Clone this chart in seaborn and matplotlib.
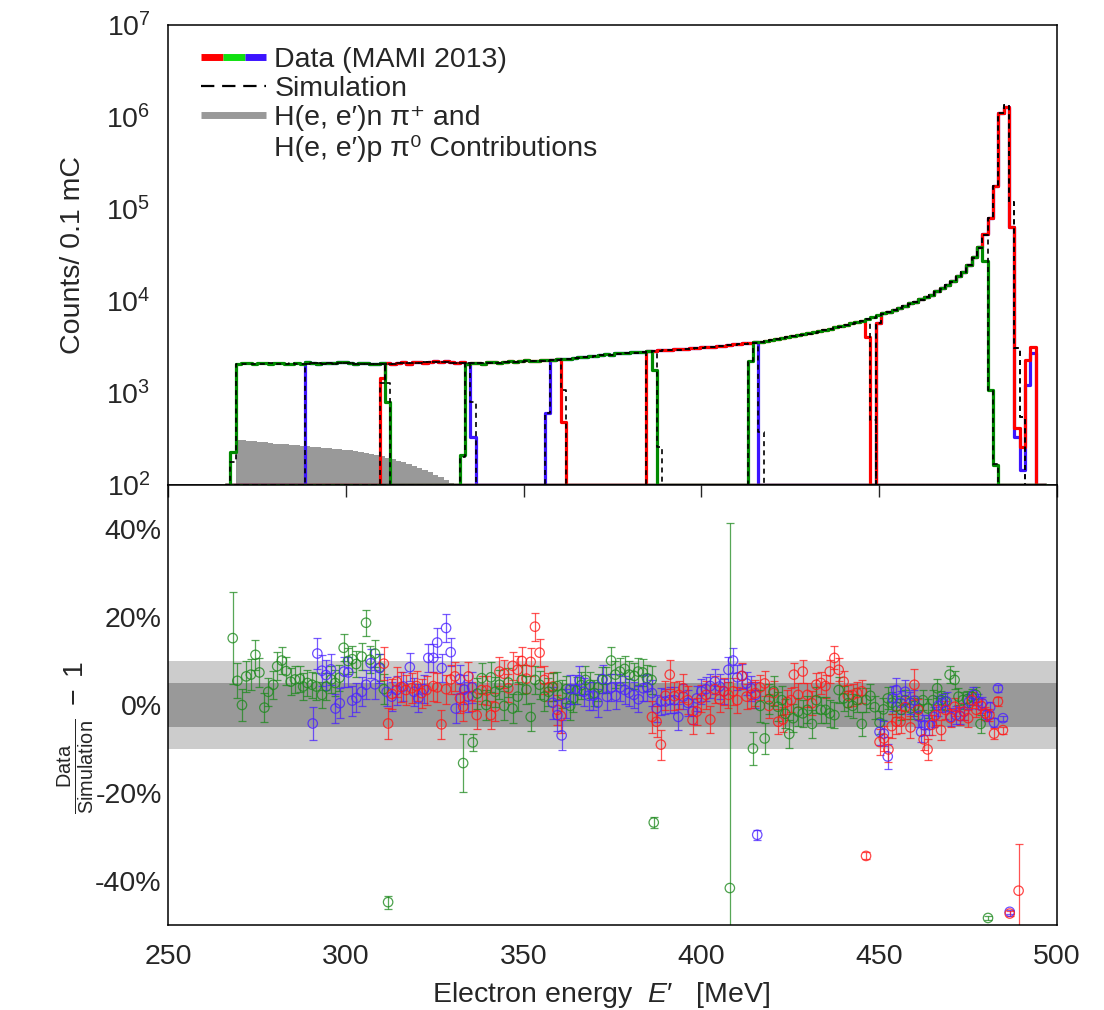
import numpy as np
import pandas as pd
import matplotlib
matplotlib.use("Agg")
import matplotlib.pyplot as plt
import seaborn as sns
from matplotlib.lines import Line2D
from matplotlib.legend_handler import HandlerTuple
from matplotlib.ticker import LogLocator, NullFormatter

# ------------------------------------------------------------------ data
bin_lo = 266.0
bin_width = 1.5
n_bins = 154

sim_counts = [
    2060, 2070, 2080, 2090, 2080, 2070, 2080, 2090, 2100, 2090,
    2080, 2090, 2100, 2090, 2080, 2090, 2110, 2100, 2090, 2100,
    2090, 2100, 2110, 2100, 2090, 2080, 2090, 2080, 2070, 2080,
    2080, 2090, 2100, 2110, 2120, 2130, 2140, 2150, 2160, 2160,
    2150, 2150, 2140, 2130, 2120, 2110, 2100, 2100, 2110, 2120,
    2130, 2140, 2150, 2160, 2170, 2180, 2200, 2210, 2230, 2250,
    2240, 2270, 2300, 2330, 2360, 2390, 2420, 2450, 2480, 2520,
    2570, 2600, 2620, 2650, 2670, 2700, 2720, 2750, 2780, 2810,
    2850, 2870, 2900, 2920, 2950, 2970, 3000, 3030, 3060, 3090,
    3130, 3170, 3210, 3260, 3300, 3340, 3390, 3430, 3480, 3530,
    3590, 3670, 3760, 3850, 3940, 4030, 4120, 4220, 4320, 4420,
    4520, 4620, 4790, 4950, 5130, 5250, 5430, 5620, 5820, 6030,
    6310, 6610, 6920, 7240, 7590, 7940, 8320, 8810, 9330, 9770,
    10350, 10960, 11610, 12590, 13650, 14790, 16220, 18200, 20420, 24550,
    29510, 38000, 52500, 79400, 178000, 1096000, 1349000, 120000, 3100, 550,
    0, 0, 0, 0,
]

data_counts = [
    2090, 2110, 2060, 2120, 2100, 2050, 2110, 2130, 2080, 2100,
    2120, 2060, 2080, 2130, 2090, 2150, 2100, 2070, 2120, 2140,
    2110, 2150, 2190, 2120, 2070, 2100, 2130, 2060, 2090, 2110,
    2100, 2070, 2130, 2150, 2090, 2160, 2180, 2120, 2190, 2200,
    2180, 2210, 2150, 2120, 2160, 2090, 2130, 2120, 2080, 2150,
    2160, 2120, 2180, 2210, 2150, 2200, 2260, 2230, 2250, 2300,
    2280, 2260, 2330, 2370, 2340, 2410, 2460, 2440, 2510, 2530,
    2590, 2630, 2600, 2690, 2720, 2700, 2760, 2800, 2790, 2850,
    2870, 2900, 2930, 2910, 2990, 3000, 3020, 3060, 3080, 3130,
    3150, 3200, 3270, 3250, 3330, 3380, 3420, 3460, 3510, 3560,
    3620, 3700, 3790, 3840, 3990, 4080, 4150, 4250, 4390, 4480,
    4560, 4700, 4840, 4990, 5200, 5330, 5480, 5700, 5850, 6120,
    6350, 6700, 6980, 7350, 7620, 8040, 8400, 8850, 9450, 9850,
    10500, 11100, 11700, 12800, 13800, 15000, 16400, 18500, 20800, 24800,
    30000, 38500, 53500, 80500, 180000, 1100000, 1300000, 63000, 420, 260,
    2300, 3160, 0, 0,
]

# pion-production background (grey), first bin index and contents
bkg_first_bin = 2
bkg_counts = [309, 305, 302, 298, 294, 290, 286, 282, 279, 276,
              273, 270, 266, 263, 260, 258, 255, 252, 249, 246,
              243, 239, 234, 229, 224, 218, 212, 205, 198, 191,
              183, 176, 168, 160, 152, 144, 137, 130, 122, 113, 105]

# spectrometer settings: colour, full-acceptance bin range, partial edge bins
set_color = ["green", "blue", "red", "green", "blue", "red", "green", "blue", "red"]
data_lo = [2, 15, 30, 45, 61, 79, 99, 123, 123]
data_hi = [29, 45, 62, 79, 99, 119, 141, 147, 151]
data_lead = [[230], [], [1450], [210], [600], [], [2200], [5750], [5750]]
data_trail = [[800], [330], [490], [1800], [], [4100], [27000, 1070, 165],
              [330, 145, 1230, 2700], []]
sim_lo = [2, 15, 30, 45, 61, 79, 99, 123, 123]
sim_hi = [29, 45, 62, 80, 99, 120, 142, 149, 149]
sim_lead = [[180], [], [1300], [200], [600], [], [2200], [5750], [5750]]
sim_trail = [[1300], [800], [1080], [260], [380], [510], [1070, 170], [], []]

# ratio Data/Simulation - 1 [%] for each setting: energy, value, error
ratio_E1 = [268.2, 269.5, 270.8, 272.0, 273.3, 274.6, 275.7, 277.1, 278.2, 279.6,
            280.7, 282.0, 283.2, 284.5, 285.7, 287.1, 288.0, 289.2, 290.5, 291.7,
            293.3, 294.5, 295.9, 297.0, 298.2, 299.4, 300.6, 301.8, 302.9, 304.5,
            305.7, 306.8, 308.2, 309.6, 310.7, 311.9]
ratio_Y1 = [15.2, 5.5, 0.0, 6.5, 6.9, 11.4, 7.4, -0.6, 3.0, 4.6,
            8.8, 10.1, 7.7, 5.3, 5.8, 5.9, 4.2, 5.0, 4.6, 4.2,
            2.3, 4.2, 5.8, 5.0, 6.2, 13.0, 10.0, 10.4, 9.3, 11.0,
            18.7, 10.3, 11.7, 8.5, 3.6, -44.8]
ratio_R1 = [10.5, 4.0, 3.6, 3.5, 3.5, 3.4, 3.3, 3.3, 3.2, 3.2,
            3.2, 3.1, 3.1, 3.1, 3.1, 3.0, 3.0, 3.0, 3.0, 3.0,
            3.0, 3.0, 3.0, 3.0, 3.0, 3.1, 3.0, 3.0, 3.0, 3.0,
            3.0, 3.0, 3.0, 3.0, 3.4, 1.5]

ratio_E2 = [290.7, 292.0, 293.3, 294.4, 295.8, 297.1, 298.3, 299.5, 300.7, 301.8,
            303.0, 304.5, 305.7, 307.0, 308.2, 309.4, 311.5, 312.9, 314.3, 316.2,
            318.0, 319.2, 320.4, 322.0, 323.2, 324.6, 325.7, 327.0, 328.2, 329.5,
            330.9, 332.1, 333.3, 334.4, 335.5]
ratio_Y2 = [-4.2, 11.7, 7.8, 6.8, 8.1, -0.8, 0.4, 7.6, 7.4, 1.0,
            1.6, 3.0, 4.6, 9.5, 4.7, 8.4, 3.0, 1.9, 3.4, 4.2,
            8.6, 3.0, 1.5, 3.6, 10.7, 10.7, 14.2, 8.4, 17.5, 12.0,
            -0.8, 5.9, 3.5, 1.9, 4.0]
ratio_R2 = [3.8, 3.6, 3.5, 3.5, 3.5, 3.4, 3.4, 3.4, 3.4, 3.4,
            3.3, 3.3, 3.3, 3.3, 3.3, 3.3, 3.3, 3.3, 3.3, 3.3,
            3.2, 3.2, 3.2, 3.2, 3.2, 3.2, 3.2, 3.2, 3.2, 3.2,
            3.2, 3.2, 3.3, 3.4, 3.6]

ratio_E3 = [310.7, 311.9, 313.0, 314.3, 315.5, 316.9, 318.5, 319.9, 321.3, 322.7,
            324.6, 325.7, 326.9, 328.2, 329.5, 330.7, 332.1, 333.0, 334.5, 335.6,
            336.8, 338.2, 339.6, 340.8, 342.0, 343.2, 344.5, 345.7, 346.9, 348.3,
            349.5, 350.8, 352.0, 353.2, 354.5, 355.8, 357.0, 358.2, 359.5, 360.5]
ratio_Y3 = [9.4, -4.2, 2.5, 5.3, 4.1, 3.4, 3.8, 4.3, 2.7, 3.4,
            4.3, 4.0, -4.4, 3.6, 5.8, 6.5, 1.5, -0.4, 6.5, 2.0,
            -2.3, 3.4, 3.3, -2.3, -0.4, 7.6, 7.1, 3.8, 8.9, 8.0,
            10.0, 6.0, 9.8, 17.8, 11.9, 5.7, 4.0, 4.2, -1.1, -2.5]
ratio_R3 = [3.8, 3.6, 3.5, 3.4, 3.4, 3.4, 3.4, 3.4, 3.3, 3.3,
            3.3, 3.3, 3.3, 3.3, 3.3, 3.3, 3.3, 3.3, 3.3, 3.3,
            3.2, 3.2, 3.2, 3.2, 3.2, 3.2, 3.2, 3.2, 3.2, 3.2,
            3.2, 3.2, 3.2, 3.2, 3.2, 3.2, 3.2, 3.3, 3.4, 3.8]

ratio_E4 = [333.0, 335.7, 337.0, 338.2, 339.5, 340.8, 342.0, 343.2, 344.5, 345.7,
            346.9, 348.3, 349.5, 350.8, 352.0, 353.2, 354.5, 355.8, 357.0, 358.2,
            359.5, 360.8, 362.0, 363.1, 364.0, 365.0, 366.2, 367.4, 368.6, 369.9,
            371.0, 372.1, 373.3, 374.6, 375.8, 377.1, 378.4, 379.7, 381.1, 382.2,
            383.5, 384.7, 386.0, 386.6]
ratio_Y4 = [-13.2, -8.5, 2.6, 6.1, 0.0, 6.3, 3.0, 4.6, -0.2, 5.1,
            -0.8, 1.9, 5.7, 3.5, -2.7, 5.7, 4.6, 1.9, 3.0, 4.0,
            4.3, 2.5, 3.6, -0.2, 1.5, 3.3, 4.5, 5.7, 4.6, 2.7,
            4.0, 5.7, 5.7, 10.1, 6.9, 7.6, 8.2, 6.9, 6.6, 7.6,
            7.4, 6.1, 5.7, -26.7]
ratio_R4 = [6.5, 2.0, 3.5, 3.4, 3.4, 3.4, 3.4, 3.3, 3.3, 3.3,
            3.3, 3.3, 3.3, 3.2, 3.2, 3.2, 3.2, 3.2, 3.2, 3.2,
            3.1, 3.1, 3.1, 3.1, 3.1, 3.1, 3.1, 3.1, 3.0, 3.0,
            3.0, 3.0, 3.0, 3.0, 3.0, 3.0, 3.0, 3.0, 3.0, 3.0,
            3.0, 3.0, 3.2, 1.2]

ratio_E5 = [358.2, 359.5, 360.7, 362.0, 363.1, 364.5, 365.7, 366.9, 368.3, 369.6,
            370.8, 372.2, 373.4, 374.7, 375.9, 377.2, 378.5, 379.7, 381.0, 382.3,
            383.6, 384.8, 386.1, 387.4, 388.6, 389.9, 391.1, 392.4, 393.5, 394.9,
            396.2, 397.5, 398.7, 400.0, 401.3, 402.5, 403.8, 405.1, 406.3, 407.6,
            408.9, 410.1, 411.4, 412.7, 414.0, 415.2, 415.7]
ratio_Y5 = [0.5, -2.3, -6.9, 0.4, 3.6, 3.6, 5.6, 3.0, 2.1, 2.1,
            0.5, 5.9, 1.9, 4.0, 2.1, 4.0, 3.4, 2.8, 2.3, 1.3,
            3.8, 4.0, 2.7, -0.8, 0.8, 0.8, 1.1, 1.1, -2.7, 1.9,
            0.5, -1.5, 1.5, 3.1, 3.6, 4.3, 5.3, 4.2, 3.1, 8.0,
            10.1, 6.3, 6.6, 4.9, 3.8, 2.3, -29.5]
ratio_R5 = [3.6, 3.5, 3.4, 3.3, 3.3, 3.3, 3.3, 3.2, 3.2, 3.2,
            3.2, 3.2, 3.1, 3.1, 3.1, 3.1, 3.1, 3.0, 3.0, 3.0,
            3.0, 3.0, 3.0, 3.0, 3.0, 2.9, 2.9, 2.9, 2.9, 2.9,
            2.9, 2.9, 2.8, 2.8, 2.8, 2.8, 2.8, 2.8, 2.8, 2.8,
            2.8, 2.8, 2.7, 2.7, 2.8, 3.0, 1.2]

ratio_E6 = [386.1, 387.4, 388.6, 389.9, 391.1, 392.4, 393.7, 394.9, 396.2, 397.5,
            398.7, 400.0, 401.3, 402.5, 403.8, 405.1, 406.3, 407.6, 408.9, 410.1,
            411.4, 412.7, 414.0, 415.2, 416.5, 417.8, 419.0, 420.3, 421.6, 422.9,
            424.1, 425.2, 426.0, 427.2, 428.5, 429.8, 431.1, 432.3, 433.6, 434.9,
            436.1, 437.4, 438.6, 440.0, 441.2, 442.5, 443.8, 445.1, 446.3]
ratio_Y6 = [-2.7, -3.8, -9.0, 2.1, 6.9, 2.0, 2.3, 3.8, 1.1, -3.4,
            -1.5, 1.5, 2.3, -3.3, 3.6, 1.3, 3.1, 2.3, 3.1, 1.1,
            6.6, 1.9, 2.3, 2.7, 4.0, 4.9, -0.2, 2.7, -3.8, -3.3,
            0.7, 1.1, 6.9, 2.3, 7.6, 2.3, 0.4, 4.6, 5.0, 4.3,
            7.6, 10.7, 8.0, 5.3, 2.1, 2.3, 2.7, 3.1, -34.3]
ratio_R6 = [3.6, 3.5, 3.4, 3.3, 3.3, 3.2, 3.2, 3.2, 3.2, 3.2,
            3.1, 3.1, 3.1, 3.1, 3.1, 3.0, 3.0, 3.0, 3.0, 3.0,
            2.9, 2.9, 2.9, 2.9, 2.9, 2.9, 2.8, 2.8, 2.8, 2.8,
            2.8, 2.8, 2.7, 2.7, 2.7, 2.7, 2.7, 2.6, 2.6, 2.6,
            2.6, 2.6, 2.6, 2.5, 2.5, 2.5, 2.5, 2.6, 0.8]

ratio_E7 = [408.0, 414.5, 416.5, 417.8, 419.0, 420.3, 421.5, 422.6, 423.6, 424.7,
            425.8, 427.2, 428.5, 429.8, 431.1, 432.3, 433.6, 434.9, 436.1, 437.4,
            438.6, 440.0, 441.2, 442.5, 443.8, 445.1, 446.3, 447.5, 448.7, 450.1,
            451.2, 452.4, 453.6, 454.8, 456.2, 457.3, 458.8, 459.9, 461.0, 462.3,
            463.7, 465.1, 466.3, 467.4, 468.6, 469.8, 471.2, 472.3, 473.5, 474.7,
            476.0, 477.2, 478.5, 480.6]
ratio_Y7 = [-41.6, -9.9, -0.2, -7.6, 1.3, 3.1, -0.4, 1.1, -2.0, -6.6,
            -3.0, -1.5, -1.9, -1.1, -4.3, 1.1, -1.1, -1.1, -1.9, -2.3,
            3.4, 1.5, 0.4, -0.2, 1.1, -4.3, 1.1, 2.1, -0.5, -4.0,
            -1.0, 1.5, 0.5, -0.4, -1.1, 1.1, -0.8, -0.2, -0.8, 1.1,
            -0.8, 1.1, 3.8, 1.1, 0.8, 6.9, 5.7, 1.9, 1.1, 1.3,
            1.9, 2.3, -4.3, -48.4]
ratio_R7 = [83.0, 3.8, 3.6, 3.5, 3.4, 3.4, 3.3, 3.3, 3.3, 3.2,
            3.2, 3.2, 3.1, 3.1, 3.1, 3.0, 3.0, 3.0, 3.0, 2.9,
            2.9, 2.9, 2.8, 2.8, 2.8, 2.7, 2.7, 2.7, 2.6, 2.6,
            2.5, 2.5, 2.5, 2.4, 2.4, 2.4, 2.3, 2.3, 2.3, 2.2,
            2.2, 2.2, 2.1, 2.1, 2.0, 2.0, 2.0, 1.9, 1.9, 1.8,
            1.8, 1.7, 2.0, 0.5]

ratio_E8 = [450.1, 451.3, 452.4, 453.8, 454.8, 456.0, 457.3, 458.8, 459.9, 461.0,
            461.8, 462.7, 464.1, 465.3, 466.6, 467.8, 469.0, 470.2, 471.6, 472.8,
            473.9, 475.3, 476.5, 477.8, 479.0, 480.3, 481.2, 482.3, 483.4, 484.8,
            486.7]
ratio_Y8 = [-6.1, -6.5, -11.7, 1.5, 3.4, 0.5, 3.0, 0.4, 1.0, -2.5,
            -6.1, -4.6, -4.6, -2.7, -0.2, 0.4, 0.8, -2.7, -2.3, -2.5,
            -1.5, 0.8, 2.3, 0.8, 0.4, -2.3, -0.5, -4.0, 3.8, -3.0,
            -47.0]
ratio_R8 = [3.0, 2.9, 2.8, 2.8, 2.7, 2.6, 2.6, 2.5, 2.5, 2.4,
            2.4, 2.3, 2.3, 2.2, 2.2, 2.1, 2.1, 2.0, 2.0, 1.9,
            1.9, 1.8, 1.7, 1.6, 1.5, 1.3, 1.2, 1.0, 0.8, 0.6,
            0.5]

ratio_E9 = [450.1, 451.3, 452.6, 453.5, 454.8, 456.0, 457.3, 458.8, 459.9, 461.0,
            462.5, 463.6, 464.8, 465.9, 467.4, 468.6, 470.1, 471.2, 472.6, 473.8,
            475.0, 476.1, 477.3, 478.7, 479.8, 481.0, 482.3, 483.4, 484.8, 486.7,
            489.2]
ratio_Y9 = [-8.4, -7.6, -10.1, -4.8, -3.8, -3.8, -0.5, -5.1, 4.6, -1.1,
            -7.8, -10.1, -4.5, -2.3, -5.7, -1.1, -3.0, -0.4, -2.5, -1.5,
            -3.0, 1.1, -1.1, -0.2, -1.9, -2.3, -6.5, 0.8, -5.7, -47.4,
            -42.2]
ratio_R9 = [3.0, 2.9, 2.8, 2.8, 2.7, 2.6, 2.6, 2.5, 3.5, 2.4,
            2.4, 2.3, 2.3, 2.2, 2.2, 2.1, 2.1, 2.0, 2.0, 1.9,
            1.9, 1.8, 1.7, 1.6, 1.5, 1.3, 1.2, 1.0, 0.8, 0.6,
            10.7]

ratio_E = [ratio_E1, ratio_E2, ratio_E3, ratio_E4, ratio_E5, ratio_E6, ratio_E7, ratio_E8, ratio_E9]
ratio_Y = [ratio_Y1, ratio_Y2, ratio_Y3, ratio_Y4, ratio_Y5, ratio_Y6, ratio_Y7, ratio_Y8, ratio_Y9]
ratio_R = [ratio_R1, ratio_R2, ratio_R3, ratio_R4, ratio_R5, ratio_R6, ratio_R7, ratio_R8, ratio_R9]

legend_labels = ["Data (MAMI 2013)", "Simulation",
                 "H(e, e\u2032)n \u03c0\u207a and",
                 "H(e, e\u2032)p \u03c0\u2070 Contributions"]

# ------------------------------------------------------------------ style
FS = 20.5
sns.set_style("white")
plt.rcParams["font.family"] = ["Liberation Sans", "DejaVu Sans"]
plt.rcParams["mathtext.fontset"] = "custom"
plt.rcParams["mathtext.rm"] = "Liberation Sans"
plt.rcParams["mathtext.it"] = "Liberation Sans:italic"
plt.rcParams["mathtext.bf"] = "Liberation Sans:bold"
plt.rcParams["font.size"] = FS
plt.rcParams["axes.linewidth"] = 1.1
plt.rcParams["axes.edgecolor"] = "black"

line_col = {"red": "#ff0000", "green": "#008a00", "blue": "#3c14ff"}
pt_col = {"red": "#ff1a1a", "green": "#1f8a1f", "blue": "#4a22ff"}
leg_col = {"red": "#ff0000", "green": "#10e010", "blue": "#3c14ff"}
FLOOR = 1e2

fig = plt.figure(figsize=(11.04, 10.10), dpi=100)
W, H = 1104.0, 1010.0
ax_top = fig.add_axes([168 / W, 1 - 485 / H, 889 / W, 460 / H])
ax_bot = fig.add_axes([168 / W, 1 - 925 / H, 889 / W, 440 / H])

edges = bin_lo + bin_width * np.arange(n_bins + 1)
centers = edges[:-1] + bin_width / 2


def setting_curve(counts, lo, hi, lead, trail):
    counts = np.asarray(counts, dtype=float)
    vals = np.full(n_bins, FLOOR)
    vals[lo:hi + 1] = counts[lo:hi + 1]
    if lead:
        vals[lo - len(lead):lo] = lead
    if trail:
        vals[hi + 1:hi + 1 + len(trail)] = trail
    vals = np.where(vals > FLOOR, vals, FLOOR)
    return np.append(vals, vals[-1])


ax_top.set_yscale("log")

# grey background contribution
bk_idx = np.arange(bkg_first_bin, bkg_first_bin + len(bkg_counts))
bkg_df = pd.DataFrame({"E": centers[bk_idx], "w": np.asarray(bkg_counts, dtype=float)})
sns.histplot(data=bkg_df, x="E", weights="w", bins=list(edges[bkg_first_bin:bk_idx[-1] + 2]),
             element="step", fill=True, color="#999999", alpha=1.0, linewidth=0,
             ax=ax_top, zorder=1)

# data histograms
order = [1, 4, 7, 2, 5, 8, 0, 3, 6]
for i in order:
    y = setting_curve(data_counts, data_lo[i], data_hi[i], data_lead[i], data_trail[i])
    sns.lineplot(x=edges, y=y, ax=ax_top, color=line_col[set_color[i]], lw=2.3,
                 drawstyle="steps-post", estimator=None, sort=False, legend=False, zorder=3)
# simulation
for i in range(9):
    y = setting_curve(sim_counts, sim_lo[i], sim_hi[i], sim_lead[i], sim_trail[i])
    sns.lineplot(x=edges, y=y, ax=ax_top, color="black", lw=1.2,
                 linestyle=(0, (3, 2.5)), drawstyle="steps-post", estimator=None,
                 sort=False, legend=False, zorder=4)

ax_top.set_xlim(250, 500)
ax_top.set_ylim(1e2, 1e7)
ax_top.set_yticks([1e2, 1e3, 1e4, 1e5, 1e6, 1e7])
ax_top.yaxis.set_minor_locator(LogLocator(base=10, subs=np.arange(2, 10), numticks=20))
ax_top.yaxis.set_minor_formatter(NullFormatter())
ax_top.tick_params(axis="y", which="major", direction="in", length=8.6, width=1.0,
                   pad=12.5, labelsize=FS)
ax_top.tick_params(axis="y", which="minor", direction="in", length=4.8, width=0.9)
ax_top.tick_params(axis="x", bottom=False, labelbottom=False)
ax_top.set_xlabel("")
ax_top.set_ylabel("Counts/ 0.1 mC", fontsize=FS)
ax_top.yaxis.set_label_coords(-0.092, 0.5)

# legend
h_data = (Line2D([], [], color=leg_col["red"], lw=5, solid_capstyle="butt"),
          Line2D([], [], color=leg_col["green"], lw=5, solid_capstyle="butt"),
          Line2D([], [], color=leg_col["blue"], lw=5, solid_capstyle="butt"))
h_sim = Line2D([], [], color="black", lw=1.6, linestyle=(0, (6, 3.5)))
h_bkg = Line2D([], [], color="#999999", lw=5, solid_capstyle="butt")
h_blank = Line2D([], [], color="none", lw=0)
ax_top.legend([h_data, h_sim, h_bkg, h_blank], legend_labels,
              handler_map={tuple: HandlerTuple(ndivide=None, pad=0)},
              loc="upper left", bbox_to_anchor=(0.037, 0.953), frameon=False,
              borderaxespad=0, borderpad=0, handlelength=2.3, handletextpad=0.28,
              labelspacing=0.12, fontsize=FS)

# ratio panel
ax_bot.axhspan(-10, 10, color="#cccccc", lw=0, zorder=0)
ax_bot.axhspan(-5, 5, color="#999999", lw=0, zorder=0)
for i in range(9):
    c = pt_col[set_color[i]]
    ax_bot.errorbar(ratio_E[i], ratio_Y[i], yerr=ratio_R[i], fmt="none", ecolor=c,
                    elinewidth=0.9, capsize=3, capthick=0.9, alpha=0.75, zorder=2)
    sns.scatterplot(x=ratio_E[i], y=ratio_Y[i], ax=ax_bot, marker="o", s=46,
                    facecolor="none", edgecolor=c, linewidth=0.9, alpha=0.8,
                    legend=False, zorder=3)

ax_bot.set_xlim(250, 500)
ax_bot.set_ylim(-50, 50)
ax_bot.set_xticks([250, 300, 350, 400, 450, 500])
ax_bot.set_yticks([-40, -20, 0, 20, 40])
ax_bot.set_yticklabels(["-40%", "-20%", "0%", "20%", "40%"])
ax_bot.tick_params(axis="both", direction="in", length=8.6, width=1.0, labelsize=FS)
ax_bot.tick_params(axis="x", top=True, pad=13.5)
ax_bot.tick_params(axis="y", pad=4.5)
ax_bot.set_xlabel("Electron energy  $E$\u2032   [MeV]", fontsize=FS)
ax_bot.xaxis.set_label_coords(0.487, -0.125)
ax_bot.xaxis.label.set_va("top")
ax_bot.set_ylabel(r"$\frac{\mathrm{Data}}{\mathrm{Simulation}}\;-\;1$", fontsize=FS)
ax_bot.yaxis.set_label_coords(-0.08, 0.425)

for ax in (ax_top, ax_bot):
    for s in ax.spines.values():
        s.set_visible(True)
        s.set_color("black")
        s.set_linewidth(1.1)

fig.savefig("out.png", dpi=100)
